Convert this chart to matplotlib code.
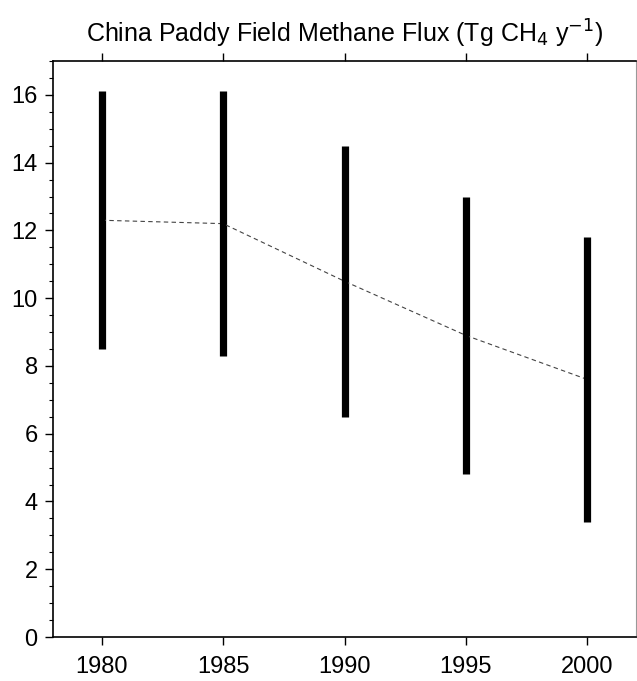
import numpy as np
import matplotlib
matplotlib.use("Agg")
import matplotlib.pyplot as plt
from matplotlib.ticker import MultipleLocator

plt.rcParams['font.family'] = ['Liberation Sans', 'DejaVu Sans']

years = [1980, 1985, 1990, 1995, 2000]
flux_low = [8.5, 8.3, 6.5, 4.8, 3.4]
flux_high = [16.1, 16.1, 14.5, 13.0, 11.8]
flux_mean = [12.3, 12.2, 10.5, 8.9, 7.6]

fig = plt.figure(figsize=(6.37, 6.81), dpi=100)
ax = fig.add_axes([53 / 637, 44 / 681, 583 / 637, 576 / 681])

# range bars
ax.vlines(years, flux_low, flux_high, colors='black', linewidth=5.2, capstyle='butt')
# mean trend
ax.plot(years, flux_mean, color='#444444', linestyle=(0, (4, 3)), linewidth=0.8)
ax.plot(years, flux_mean, linestyle='none', marker='s', markersize=5,
        color='black', markeredgewidth=0)

ax.set_xlim(1978, 2002)
ax.set_ylim(0, 17)
ax.set_xticks(years)
ax.yaxis.set_major_locator(MultipleLocator(2))
ax.yaxis.set_minor_locator(MultipleLocator(0.5))

ax.tick_params(axis='x', which='both', direction='out', top=True, bottom=True,
               length=6, width=1, labelsize=17, pad=8)
ax.tick_params(axis='y', which='major', direction='out', left=True, right=False,
               length=6, width=1, labelsize=17, pad=5)
ax.tick_params(axis='y', which='minor', direction='out', left=True, right=False,
               length=3, width=0.8)

for side in ['left', 'bottom', 'top']:
    ax.spines[side].set_linewidth(1.2)
ax.spines['right'].set_color('#999999')

ax.set_title('China Paddy Field Methane Flux (Tg CH$_4$ y$^{-1}$)', fontsize=18, pad=13)

fig.savefig('out.png', dpi=100)
